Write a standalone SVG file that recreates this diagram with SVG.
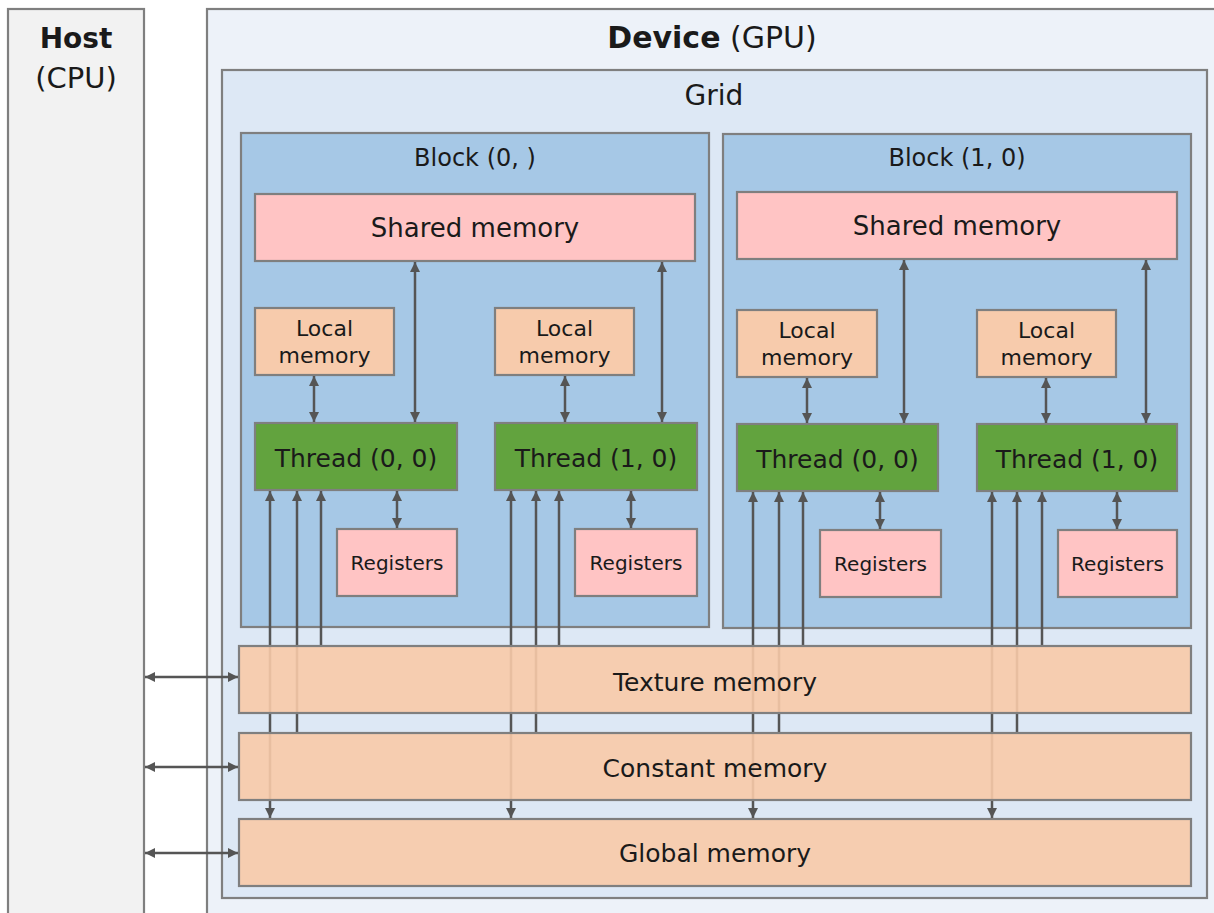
<svg xmlns="http://www.w3.org/2000/svg" width="1214" height="913" viewBox="0 0 1214 913">
<defs>
<marker id="ah" viewBox="0 0 10 10" refX="10" refY="5" markerWidth="11" markerHeight="10" markerUnits="userSpaceOnUse" orient="auto-start-reverse">
<path d="M0,0 L10,5 L0,10 z" fill="#555555"/>
</marker>
<style>
text{font-family:"DejaVu Sans","Liberation Sans",sans-serif;fill:#1a1a1a;text-anchor:middle}
.box{stroke:#7f7f7f;stroke-width:2.2}
.host{fill:#f2f2f2}
.dev{fill:#edf2f9}
.grid{fill:#dde8f5}
.blk{fill:#a6c8e6}
.pink{fill:#ffc4c4}
.peach{fill:#f7cbac}
.mem{fill:#f8caa8;fill-opacity:0.9}
.thr{fill:#62a33e}
.c{stroke:#555555;stroke-width:2.5;fill:none}
.b{marker-start:url(#ah);marker-end:url(#ah)}
.s{marker-start:url(#ah)}
.t26{font-size:26px}
.t25{font-size:25px}
.t22{font-size:22px}
.t20{font-size:20px}
</style>
</defs>

<g id="host">
<rect class="box host" x="8" y="9" width="136" height="920"/>
<text x="76" y="48" font-size="28" font-weight="bold">Host</text>
<text x="76" y="88" font-size="29">(CPU)</text>
</g>

<g id="device">
<rect class="box dev" x="207" y="9" width="1020" height="920"/>
<text x="712" y="48" font-size="30"><tspan font-weight="bold">Device</tspan> (GPU)</text>
</g>

<g id="grid">
<rect class="box grid" x="222" y="70" width="985" height="828"/>
<text x="714" y="105" font-size="28">Grid</text>
</g>

<g id="block-0-0">
<rect class="box blk" x="241" y="133" width="468" height="494"/>
<text x="475" y="166" font-size="24">Block (0, )</text>
</g>
<g id="block-1-0">
<rect class="box blk" x="723" y="134" width="468" height="494"/>
<text x="957" y="166" font-size="24">Block (1, 0)</text>
</g>

<g id="shared-0">
<rect class="box pink" x="255" y="194" width="440" height="67"/>
<text x="475" y="237" class="t26">Shared memory</text>
</g>
<g id="shared-1">
<rect class="box pink" x="737" y="192" width="440" height="67"/>
<text x="957" y="235" class="t26">Shared memory</text>
</g>

<g id="local-0-0">
<rect class="box peach" x="255" y="308" width="139" height="67"/>
<text x="324.5" y="336" class="t22">Local</text>
<text x="324.5" y="363" class="t22">memory</text>
</g>
<g id="local-0-1">
<rect class="box peach" x="495" y="308" width="139" height="67"/>
<text x="564.5" y="336" class="t22">Local</text>
<text x="564.5" y="363" class="t22">memory</text>
</g>
<g id="local-1-0">
<rect class="box peach" x="737" y="310" width="140" height="67"/>
<text x="807" y="338" class="t22">Local</text>
<text x="807" y="365" class="t22">memory</text>
</g>
<g id="local-1-1">
<rect class="box peach" x="977" y="310" width="139" height="67"/>
<text x="1046.5" y="338" class="t22">Local</text>
<text x="1046.5" y="365" class="t22">memory</text>
</g>

<g id="thread-0-0">
<rect class="box thr" x="255" y="423" width="202" height="67"/>
<text x="356" y="467" class="t25">Thread (0, 0)</text>
</g>
<g id="thread-0-1">
<rect class="box thr" x="495" y="423" width="202" height="67"/>
<text x="596" y="467" class="t25">Thread (1, 0)</text>
</g>
<g id="thread-1-0">
<rect class="box thr" x="737" y="424" width="201" height="67"/>
<text x="837.5" y="468" class="t25">Thread (0, 0)</text>
</g>
<g id="thread-1-1">
<rect class="box thr" x="977" y="424" width="200" height="67"/>
<text x="1077" y="468" class="t25">Thread (1, 0)</text>
</g>

<g id="reg-0-0">
<rect class="box pink" x="337" y="529" width="120" height="67"/>
<text x="397" y="570" class="t20">Registers</text>
</g>
<g id="reg-0-1">
<rect class="box pink" x="575" y="529" width="122" height="67"/>
<text x="636" y="570" class="t20">Registers</text>
</g>
<g id="reg-1-0">
<rect class="box pink" x="820" y="530" width="121" height="67"/>
<text x="880.5" y="571" class="t20">Registers</text>
</g>
<g id="reg-1-1">
<rect class="box pink" x="1058" y="530" width="119" height="67"/>
<text x="1117.5" y="571" class="t20">Registers</text>
</g>

<g id="connectors">
<!-- shared <-> thread -->
<line class="c b" x1="415" y1="262" x2="415" y2="422"/>
<line class="c b" x1="662" y1="262" x2="662" y2="422"/>
<line class="c b" x1="904" y1="260" x2="904" y2="423"/>
<line class="c b" x1="1146" y1="260" x2="1146" y2="423"/>
<!-- local <-> thread -->
<line class="c b" x1="314" y1="376" x2="314" y2="422"/>
<line class="c b" x1="565" y1="376" x2="565" y2="422"/>
<line class="c b" x1="807" y1="378" x2="807" y2="423"/>
<line class="c b" x1="1046" y1="378" x2="1046" y2="423"/>
<!-- thread <-> registers -->
<line class="c b" x1="397" y1="491" x2="397" y2="528"/>
<line class="c b" x1="631" y1="491" x2="631" y2="528"/>
<line class="c b" x1="880" y1="492" x2="880" y2="529"/>
<line class="c b" x1="1117" y1="492" x2="1117" y2="529"/>
<!-- memories -> threads -->
<line class="c b" x1="270" y1="491" x2="270" y2="818"/>
<line class="c s" x1="297" y1="491" x2="297" y2="733"/>
<line class="c s" x1="321" y1="491" x2="321" y2="646"/>
<line class="c b" x1="511" y1="491" x2="511" y2="818"/>
<line class="c s" x1="536" y1="491" x2="536" y2="733"/>
<line class="c s" x1="559" y1="491" x2="559" y2="646"/>
<line class="c b" x1="753" y1="492" x2="753" y2="818"/>
<line class="c s" x1="779" y1="492" x2="779" y2="733"/>
<line class="c s" x1="803" y1="492" x2="803" y2="646"/>
<line class="c b" x1="992" y1="492" x2="992" y2="818"/>
<line class="c s" x1="1017" y1="492" x2="1017" y2="733"/>
<line class="c s" x1="1042" y1="492" x2="1042" y2="646"/>
<!-- host <-> device memories -->
<line class="c b" x1="145" y1="677" x2="238" y2="677"/>
<line class="c b" x1="145" y1="767" x2="238" y2="767"/>
<line class="c b" x1="145" y1="853" x2="238" y2="853"/>
</g>

<g id="texture-memory">
<rect class="box mem" x="239" y="646" width="952" height="67"/>
<text x="715" y="691" font-size="25">Texture memory</text>
</g>
<g id="constant-memory">
<rect class="box mem" x="239" y="733" width="952" height="67"/>
<text x="715" y="777" font-size="25">Constant memory</text>
</g>
<g id="global-memory">
<rect class="box mem" x="239" y="819" width="952" height="67"/>
<text x="715" y="862" font-size="25">Global memory</text>
</g>
</svg>
